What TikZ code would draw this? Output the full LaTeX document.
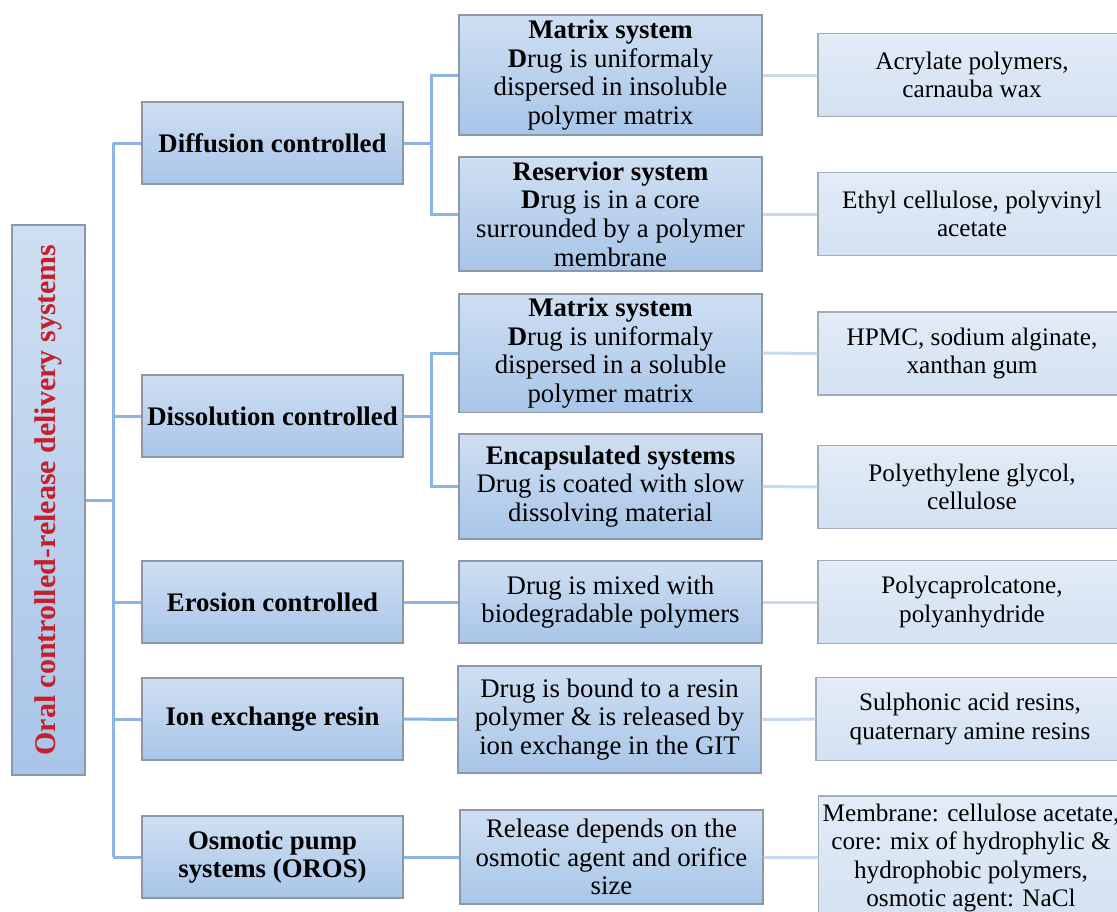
\documentclass[tikz,border=0pt]{standalone}
\usepackage{fontspec}
\setmainfont{Liberation Serif}
\definecolor{boxtop}{HTML}{CFDFF2}
\definecolor{boxbot}{HTML}{A8C5E8}
\definecolor{leaftop}{HTML}{E3ECF7}
\definecolor{leafbot}{HTML}{D3E1F2}
\definecolor{boxedge}{HTML}{8C98A8}
\definecolor{linkblue}{HTML}{8CB4E2}
\definecolor{leaflink}{HTML}{C8DAF0}
\definecolor{rootred}{HTML}{C3202B}
\tikzset{
  box/.style={draw=boxedge, line width=0.6pt, top color=boxtop, bottom color=boxbot,
    align=center, inner sep=2pt, font=\fontsize{13.4}{14.3}\selectfont},
  cls/.style={box, minimum width=130.5pt, minimum height=41pt, font=\fontsize{13.4}{14.3}\selectfont\bfseries},
  mech/.style={box, minimum width=151.5pt},
  leaf/.style={box, top color=leaftop, bottom color=leafbot, draw=boxedge!80, minimum width=154pt, minimum height=41.5pt,
    font=\fontsize{12.6}{14.3}\selectfont},
  link/.style={draw=linkblue, line width=1.5pt},
  leaflink/.style={draw=leaflink, line width=1.5pt},
}
\begin{document}
\begin{tikzpicture}[x=0.5pt,y=-0.5pt]
		\clip (0,0) rectangle (1117,911);
		\fill[white] (0,0) rectangle (1117,911);
		%
		\node[box, rotate=90, minimum width=275pt, minimum height=36.5pt,
		  font=\fontsize{15}{16}\selectfont\bfseries, text=rootred]
		  (root) at (48.5,500) {Oral controlled-release delivery systems};
		%
		\node[cls] (dif) at (272.5,143) {Diffusion controlled};
		\node[cls] (dis) at (272.5,416) {Dissolution controlled};
		\node[cls] (ero) at (272.5,602) {Erosion controlled};
		\node[cls] (ion) at (272.5,719) {Ion exchange resin};
		\node[cls] (osm) at (272.5,857) {Osmotic pump\\systems (OROS)};
		%
		\node[mech, minimum height=60pt] (mtxa) at (610.5,75)
		  {\textbf{Matrix system}\\\textbf{D}rug is uniformaly\\dispersed in insoluble\\polymer matrix};
		\node[mech, minimum height=57pt] (res) at (610.5,214)
		  {\textbf{Reservior system}\\\textbf{D}rug is in a core\\surrounded by a polymer\\membrane};
		\node[mech, minimum height=59pt] (mtxb) at (610.5,353)
		  {\textbf{Matrix system}\\\textbf{D}rug is uniformaly\\dispersed in a soluble\\polymer matrix};
		\node[mech, minimum height=52.5pt] (enc) at (610.5,486.5)
		  {\textbf{Encapsulated systems}\\Drug is coated with slow\\dissolving material};
		\node[mech, minimum height=41pt] (mix) at (610.5,602)
		  {Drug is mixed with\\biodegradable polymers};
		\node[mech, minimum height=53.5pt] (bnd) at (609.5,719.5)
		  {Drug is bound to a resin\\polymer \& is released by\\ion exchange in the GIT};
		\node[mech, minimum height=47pt] (rel) at (611.5,857)
		  {Release depends on the\\osmotic agent and orifice\\size};
		%
		\node[leaf] (acr) at (972,75) {Acrylate polymers,\\carnauba wax};
		\node[leaf] (eth) at (972,214) {Ethyl cellulose, polyvinyl\\acetate};
		\node[leaf] (hpm) at (972,353.5) {HPMC, sodium alginate,\\xanthan gum};
		\node[leaf] (peg) at (972,487) {Polyethylene glycol,\\cellulose};
		\node[leaf] (pcl) at (972,602) {Polycaprolcatone,\\polyanhydride};
		\node[leaf] (sul) at (970,719) {Sulphonic acid resins,\\quaternary amine resins};
		\node[leaf, minimum width=150pt, minimum height=62pt] (mem) at (971,858)
		  {Membrane: cellulose acetate,\\core: mix of hydrophylic \&\\hydrophobic polymers,\\osmotic agent: NaCl};
		%
		\coordinate (spine) at (113,500);
		\coordinate (difsplit) at (431,143);
		\coordinate (dissplit) at (431,416);
		%
		\draw[link] (root.south) -- (spine);
		\draw[link] (spine |- dif) -- (spine |- osm);
		\foreach \c in {dif,dis,ero,ion,osm}
		  \draw[link] (spine |- \c) -- (\c.west);
		\draw[link] (dif.east) -- (difsplit);
		\draw[link] (mtxa.west) -| (difsplit) |- (res.west);
		\draw[link] (dis.east) -- (dissplit);
		\draw[link] (mtxb.west) -| (dissplit) |- (enc.west);
		\draw[link] (ero) -- (mix);
		\draw[link] (ion) -- (bnd);
		\draw[link] (osm) -- (rel);
		%
		\draw[leaflink] (mtxa.east) -- (acr.west);
		\draw[leaflink] (res.east) -- (eth.west);
		\draw[leaflink] (mtxb.east) -- (hpm.west);
		\draw[leaflink] (enc.east) -- (peg.west);
		\draw[leaflink] (mix) -- (pcl);
		\draw[leaflink] (bnd) -- (sul);
		\draw[leaflink] (rel) -- (mem);
\end{tikzpicture}
\end{document}
